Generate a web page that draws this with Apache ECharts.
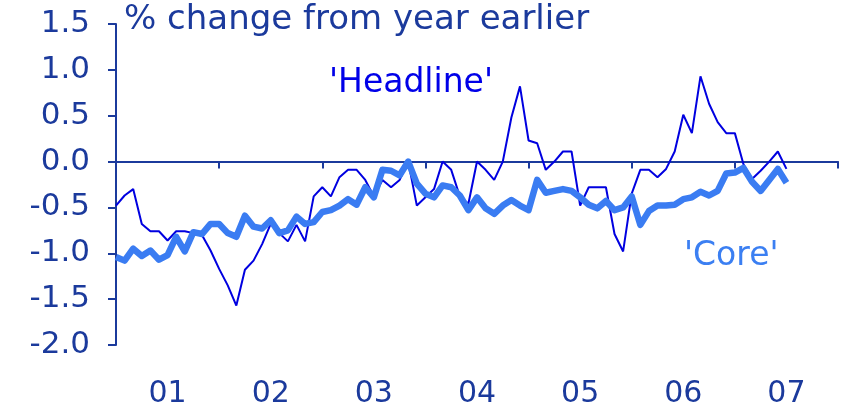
<!DOCTYPE html>
<html>
<head>
<meta charset="utf-8">
<script src="https://cdn.jsdelivr.net/npm/echarts@6/dist/echarts.min.js"></script>
<style>
html,body{margin:0;padding:0;background:#fff;}
#chart{width:844px;height:411px;}
</style>
</head>
<body>
<div id="chart"></div>
<script>
// Year tick labels (x axis), each spans one year
var yearLabels = ['01', '02', '03', '04', '05', '06', '07'];
var startYear = 2001;
var yAxisMin = -2.0, yAxisMax = 1.5, yAxisStep = 0.5;

// Monthly series, Jan 2001 .. Jul 2007 (% change from year earlier)
var headline = [
  -0.48, -0.37, -0.30, -0.68, -0.76, -0.76, -0.86, -0.76, -0.76, -0.78, -0.80, -0.97,
  -1.17, -1.35, -1.57, -1.18, -1.08, -0.90, -0.68, -0.78, -0.87, -0.69, -0.87, -0.38,
  -0.28, -0.38, -0.17, -0.09, -0.09, -0.20, -0.38, -0.20, -0.28, -0.20, 0.00, -0.48,
  -0.39, -0.30, 0.00, -0.09, -0.38, -0.46, 0.00, -0.09, -0.20, 0.00, 0.48, 0.82,
  0.23, 0.20, -0.09, 0.00, 0.11, 0.11, -0.48, -0.28, -0.28, -0.28, -0.79, -0.98,
  -0.35, -0.09, -0.09, -0.17, -0.08, 0.11, 0.51, 0.31, 0.93, 0.63, 0.43, 0.31,
  0.31, -0.03, -0.19, -0.10, 0.00, 0.11, -0.08
];
var core = [
  -1.04, -1.08, -0.95, -1.03, -0.97, -1.07, -1.02, -0.82, -0.98, -0.77, -0.79, -0.68,
  -0.68, -0.78, -0.82, -0.59, -0.71, -0.73, -0.64, -0.78, -0.75, -0.60, -0.68, -0.66,
  -0.55, -0.53, -0.48, -0.41, -0.47, -0.28, -0.39, -0.09, -0.10, -0.15, 0.00, -0.24,
  -0.35, -0.39, -0.26, -0.28, -0.37, -0.53, -0.39, -0.51, -0.57, -0.48, -0.42, -0.48,
  -0.53, -0.20, -0.34, -0.32, -0.30, -0.32, -0.39, -0.47, -0.51, -0.43, -0.53, -0.50,
  -0.38, -0.69, -0.54, -0.48, -0.48, -0.47, -0.41, -0.39, -0.33, -0.37, -0.32, -0.13,
  -0.12, -0.07, -0.22, -0.32, -0.20, -0.08, -0.23
];

// Month categories: Jan 2001 .. Jan 2008 (year boundaries at every 12th)
var months = [];
for (var y = 0; y <= yearLabels.length; y++) {
  for (var m = 1; m <= 12; m++) {
    if (y === yearLabels.length && m > 1) break;
    months.push((startYear + y) + '-' + (m < 10 ? '0' + m : m));
  }
}

var navy = '#1b3a9c';
var font = 'DejaVu Sans';

var chart = echarts.init(document.getElementById('chart'), null, {renderer: 'canvas'});
chart.setOption({
  animation: false,
  backgroundColor: '#ffffff',
  grid: {left: 116, right: 6, top: 24, bottom: 66, containLabel: false},
  xAxis: [
    {
      type: 'category',
      data: months,
      position: 'top',
      boundaryGap: false,
      axisLine: {onZero: true, lineStyle: {color: navy, width: 2}},
      axisTick: {show: true, inside: true, interval: 11, length: 7, lineStyle: {color: navy, width: 2}},
      axisLabel: {show: false},
      splitLine: {show: false}
    },
    {
      type: 'category',
      data: yearLabels,
      position: 'bottom',
      boundaryGap: true,
      axisLine: {show: false, onZero: false},
      axisTick: {show: false},
      axisLabel: {show: true, color: navy, fontFamily: font, fontSize: 30, margin: 34},
      splitLine: {show: false}
    }
  ],
  yAxis: {
    type: 'value',
    min: yAxisMin,
    max: yAxisMax,
    interval: yAxisStep,
    axisLine: {show: true, onZero: false, lineStyle: {color: navy, width: 2}},
    axisTick: {show: true, length: 8, lineStyle: {color: navy, width: 2}},
    axisLabel: {
      color: navy, fontFamily: font, fontSize: 31, margin: 26,
      formatter: function (v) { return v.toFixed(1); }
    },
    splitLine: {show: false}
  },
  graphic: [
    {type: 'text', left: 124, top: 3, style: {text: '% change from year earlier', fill: navy, font: '34px "DejaVu Sans"'}},
    {type: 'text', left: 329, top: 67, style: {text: "'Headline'", fill: '#0000e8', font: '33px "DejaVu Sans"'}},
    {type: 'text', left: 684, top: 240, style: {text: "'Core'", fill: '#3b7ff2', font: '33px "DejaVu Sans"'}}
  ],
  series: [
    {
      name: 'Headline', type: 'line', xAxisIndex: 0, data: headline,
      showSymbol: false, symbol: 'none',
      lineStyle: {color: '#0000e0', width: 2}, z: 2
    },
    {
      name: 'Core', type: 'line', xAxisIndex: 0, data: core,
      showSymbol: false, symbol: 'none',
      lineStyle: {color: '#3a7cf2', width: 6.5, join: 'round'}, z: 3
    }
  ]
});
</script>
</body>
</html>
